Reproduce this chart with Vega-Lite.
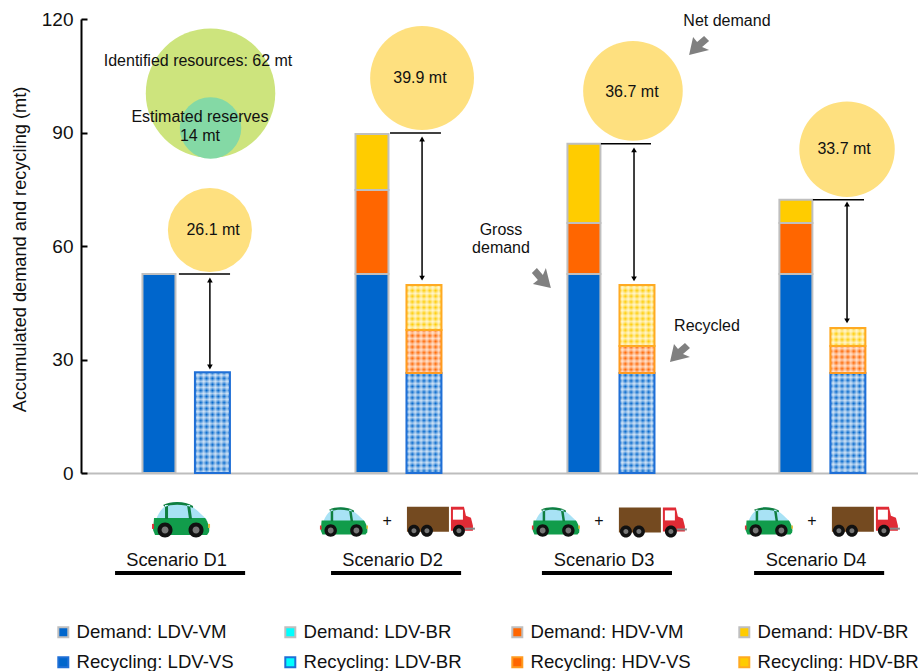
{
"$schema":"https://vega.github.io/schema/vega-lite/v6.json",
"width":837,"height":454,
"autosize":"none",
"padding":{"left":81,"top":19,"right":0,"bottom":198},
"config":{"font":"Liberation Sans","view":{"stroke":null},"text":{"color":"#111111"}},
"datasets":{
"bars":[
{"scenario":"D1","x":0.875,"y":0,"y2":52.6,"series":"Demand: LDV-VM","kind":"Demand"},
{"scenario":"D2","x":1.879,"y":0,"y2":52.6,"series":"Demand: LDV-VM","kind":"Demand"},
{"scenario":"D2","x":1.879,"y":52.6,"y2":74.8,"series":"Demand: HDV-VM","kind":"Demand"},
{"scenario":"D2","x":1.879,"y":74.8,"y2":89.6,"series":"Demand: HDV-BR","kind":"Demand"},
{"scenario":"D3","x":2.878,"y":0,"y2":52.6,"series":"Demand: LDV-VM","kind":"Demand"},
{"scenario":"D3","x":2.878,"y":52.6,"y2":66.1,"series":"Demand: HDV-VM","kind":"Demand"},
{"scenario":"D3","x":2.878,"y":66.1,"y2":87,"series":"Demand: HDV-BR","kind":"Demand"},
{"scenario":"D4","x":3.877,"y":0,"y2":52.6,"series":"Demand: LDV-VM","kind":"Demand"},
{"scenario":"D4","x":3.877,"y":52.6,"y2":66.1,"series":"Demand: HDV-VM","kind":"Demand"},
{"scenario":"D4","x":3.877,"y":66.1,"y2":72.2,"series":"Demand: HDV-BR","kind":"Demand"},
{"scenario":"D1","x":1.127,"y":0,"y2":26.6,"series":"Recycling: LDV-VS","kind":"Recycling"},
{"scenario":"D2","x":2.124,"y":0,"y2":26.4,"series":"Recycling: LDV-VS","kind":"Recycling"},
{"scenario":"D2","x":2.124,"y":26.4,"y2":37.8,"series":"Recycling: HDV-VS","kind":"Recycling"},
{"scenario":"D2","x":2.124,"y":37.8,"y2":49.7,"series":"Recycling: HDV-BR","kind":"Recycling"},
{"scenario":"D3","x":3.128,"y":0,"y2":26.4,"series":"Recycling: LDV-VS","kind":"Recycling"},
{"scenario":"D3","x":3.128,"y":26.4,"y2":33.6,"series":"Recycling: HDV-VS","kind":"Recycling"},
{"scenario":"D3","x":3.128,"y":33.6,"y2":49.7,"series":"Recycling: HDV-BR","kind":"Recycling"},
{"scenario":"D4","x":4.122,"y":0,"y2":26.4,"series":"Recycling: LDV-VS","kind":"Recycling"},
{"scenario":"D4","x":4.122,"y":26.4,"y2":33.6,"series":"Recycling: HDV-VS","kind":"Recycling"},
{"scenario":"D4","x":4.122,"y":33.6,"y2":38.3,"series":"Recycling: HDV-BR","kind":"Recycling"}
],
"columns":[
{"scenario":"D1","x":1.127,"y":0,"y2":26.6},
{"scenario":"D2","x":2.124,"y":0,"y2":49.7},
{"scenario":"D3","x":3.128,"y":0,"y2":49.7},
{"scenario":"D4","x":4.122,"y":0,"y2":38.3}
],
"net":[
{"scenario":"D1","mt":26.1,"x":1.115,"y":64.2,"tx":0.969,"tx2":1.21,"top":52.6},
{"scenario":"D2","mt":39.9,"x":2.115,"y":104.4,"tx":1.964,"tx2":2.204,"top":89.9},
{"scenario":"D3","mt":36.7,"x":3.109,"y":101,"tx":2.958,"tx2":3.194,"top":87},
{"scenario":"D4","mt":33.7,"x":4.118,"y":85.6,"tx":3.957,"tx2":4.198,"top":72.2}
],
"arrows":[
{"x":1.115,"y":51,"y2":28},
{"x":2.115,"y":88.3,"y2":51.5},
{"x":3.114,"y":85.4,"y2":51.3},
{"x":4.118,"y":71.1,"y2":40.2}
],
"resources":[
{"name":"Identified resources","mt":62,"x":1.118,"y":100.4},
{"name":"Estimated reserves","mt":14,"x":1.118,"y":91.2}
],
"notes16":[
{"label":"26.1 mt","x":1.13,"y":64.2},
{"label":"39.9 mt","x":2.105,"y":104.3},
{"label":"36.7 mt","x":3.104,"y":100.7},
{"label":"33.7 mt","x":4.104,"y":85.6},
{"label":"Identified resources: 62 mt","x":1.059,"y":108.9},
{"label":"Estimated reserves","x":1.068,"y":94},
{"label":"14 mt","x":1.068,"y":89},
{"label":"Net demand","x":3.552,"y":119.5},
{"label":"Gross","x":2.487,"y":64.2},
{"label":"demand","x":2.487,"y":59.5},
{"label":"Recycled","x":3.458,"y":38.9},
{"label":"+","x":1.95,"y":-12.7},
{"label":"+","x":2.949,"y":-12.7},
{"label":"+","x":3.953,"y":-12.7}
],
"pointers":[
{"label":"Net demand","x":3.416,"y":113.1,"angle":0},
{"label":"Gross demand","x":2.675,"y":51.3,"angle":270},
{"label":"Recycled","x":3.326,"y":32,"angle":0}
],
"scenarios":[
{"label":"Scenario D1","lx":0.958,"x":0.668,"x2":1.281,"ly":-23.3,"y":-26.4},
{"label":"Scenario D2","lx":1.976,"x":1.686,"x2":2.299,"ly":-23.3,"y":-26.4},
{"label":"Scenario D3","lx":2.973,"x":2.68,"x2":3.293,"ly":-23.3,"y":-26.4},
{"label":"Scenario D4","lx":3.972,"x":3.68,"x2":4.293,"ly":-23.3,"y":-26.4}
],
"vehicles":[
{"x":0.979,"y":-12.4,"k":4,"parts":["glass","carbody","frame","redlight","yellowlight","carwheels","carhubs"]},
{"x":1.747,"y":-13,"k":2.75,"parts":["glass","carbody","frame","redlight","yellowlight","carwheels","carhubs"]},
{"x":2.746,"y":-13,"k":2.75,"parts":["glass","carbody","frame","redlight","yellowlight","carwheels","carhubs"]},
{"x":3.75,"y":-13,"k":2.75,"parts":["glass","carbody","frame","redlight","yellowlight","carwheels","carhubs"]},
{"x":2.204,"y":-12.6,"k":4,"parts":["box","cab","window","bumper","truckwheels","truckhubs"]},
{"x":3.203,"y":-12.8,"k":4,"parts":["box","cab","window","bumper","truckwheels","truckhubs"]},
{"x":4.207,"y":-12.6,"k":4,"parts":["box","cab","window","bumper","truckwheels","truckhubs"]}
]
},
"encoding":{
"x":{"field":"x","type":"quantitative","scale":{"domain":[0.5075,4.4525],"nice":false,"zero":false,"padding":0},
 "axis":{"title":null,"labels":false,"ticks":false,"grid":false,"domainColor":"#bdbdbd","domainWidth":2}},
"y":{"field":"y","type":"quantitative","scale":{"domain":[0,120],"nice":false,"zero":false},
 "axis":{"title":"Accumulated demand and recycling (mt)","titleFontSize":18.2,"titleFontWeight":"normal","titleColor":"#111111","titlePadding":12,"titleY":230,
  "values":[0,30,60,90,120],"labelFontSize":19,"labelColor":"#111111","labelPadding":14,"tickSize":-6,"tickColor":"#000000","tickWidth":2,"domainColor":"#000000","domainWidth":2,"grid":false}}
},
"layer":[
{"data":{"name":"resources"},"transform":[{"filter":"datum.mt==62"}],"mark":{"type":"point","shape":"circle","filled":true,"opacity":1,"color":"#CDE47D"},
 "encoding":{"size":{"field":"mt","type":"quantitative","legend":null,"scale":{"type":"linear","domain":[0,62],"range":[0,16762]}}}},
{"data":{"name":"resources"},"transform":[{"filter":"datum.mt==14"}],"mark":{"type":"point","shape":"circle","filled":true,"opacity":1,"color":"#84D9A5"},
 "encoding":{"size":{"field":"mt","type":"quantitative","legend":null,"scale":{"type":"linear","domain":[0,62],"range":[0,16762]}}}},
{"data":{"name":"net"},"mark":{"type":"point","shape":"circle","filled":true,"opacity":1,"color":"#FEE07F"},
 "encoding":{"size":{"field":"mt","type":"quantitative","legend":null,"scale":{"type":"linear","domain":[0,62],"range":[0,16762]}}}},
{"data":{"name":"bars"},"transform":[{"filter":"datum.kind=='Recycling'"}],
 "mark":{"type":"bar","size":0,"fill":"transparent","strokeWidth":0},
 "encoding":{"y2":{"field":"y2"},
  "stroke":{"field":"series","type":"nominal","scale":{"domain":["Demand: LDV-VM","Demand: LDV-BR","Demand: HDV-VM","Demand: HDV-BR","Recycling: LDV-VS","Recycling: LDV-BR","Recycling: HDV-VS","Recycling: HDV-BR"],"range":["#bfbfbf","#bfbfbf","#bfbfbf","#bfbfbf","#1f6fd6","#1f6fd6","#ff9a1f","#ffaa22"]},
   "legend":{"title":null,"orient":"none","legendX":-27,"legendY":604,"columns":4,"direction":"horizontal","gridAlign":"all","symbolType":"square","symbolSize":100,"labelFontSize":18.6,"labelColor":"#111111","labelLimit":220,"rowPadding":11,"columnPadding":43,"labelOffset":4,
    "encoding":{"symbols":{
      "fill":{"value":{"expr":"datum.value=='Recycling: LDV-VS'?'#8fbcec':datum.value=='Recycling: LDV-BR'?'#a6f5f5':datum.value=='Recycling: HDV-VS'?'#ffbf94':datum.value=='Recycling: HDV-BR'?'#ffe88a':scale('color',datum.value)"}},
      "strokeWidth":{"value":2}}}}}}},
{"data":{"name":"bars"},"transform":[{"filter":"datum.kind=='Demand'"}],
 "mark":{"type":"bar","size":33,"stroke":"#bfbfbf","strokeWidth":2},
 "encoding":{"y2":{"field":"y2"},
  "color":{"field":"series","type":"nominal","scale":{"domain":["Demand: LDV-VM","Demand: LDV-BR","Demand: HDV-VM","Demand: HDV-BR","Recycling: LDV-VS","Recycling: LDV-BR","Recycling: HDV-VS","Recycling: HDV-BR"],"range":["#0066CC","#00FFFF","#FF6600","#FFCC00","#0066CC","#00FFFF","#FF6600","#FFCC00"]},"legend":null}}},
{"data":{"name":"bars"},"transform":[{"filter":"datum.kind=='Recycling'"}],
 "mark":{"type":"bar","size":35},
 "encoding":{"y2":{"field":"y2"},
  "color":{"field":"series","type":"nominal","scale":{"domain":["Demand: LDV-VM","Demand: LDV-BR","Demand: HDV-VM","Demand: HDV-BR","Recycling: LDV-VS","Recycling: LDV-BR","Recycling: HDV-VS","Recycling: HDV-BR"],"range":["#0066CC","#00FFFF","#FF6600","#FFCC00","#0066CC","#00FFFF","#FF6600","#FFCC00"]},"legend":null}}},
{"data":{"name":"columns"},
 "mark":{"type":"bar","size":35,"fill":{"gradient":"linear","x1":0,"y1":0,"x2":1,"y2":0,"stops":[
  {"offset":0,"color":"#fff0"},{"offset":0.083,"color":"#fff9"},{"offset":0.167,"color":"#fff0"},{"offset":0.25,"color":"#fff9"},{"offset":0.333,"color":"#fff0"},{"offset":0.417,"color":"#fff9"},{"offset":0.5,"color":"#fff0"},{"offset":0.583,"color":"#fff9"},{"offset":0.667,"color":"#fff0"},{"offset":0.75,"color":"#fff9"},{"offset":0.833,"color":"#fff0"},{"offset":0.917,"color":"#fff9"},{"offset":1,"color":"#fff0"}]}},
 "encoding":{"y2":{"field":"y2"}}},
{"data":{"name":"columns"},"transform":[{"filter":"datum.scenario=='D1'"}],
 "mark":{"type":"bar","size":35,"fill":{"gradient":"linear","x1":0,"y1":0,"x2":0,"y2":1,"stops":[
  {"offset":0,"color":"#fff0"},{"offset":0.03,"color":"#fff9"},{"offset":0.06,"color":"#fff0"},{"offset":0.09,"color":"#fff9"},{"offset":0.12,"color":"#fff0"},{"offset":0.15,"color":"#fff9"},{"offset":0.18,"color":"#fff0"},{"offset":0.21,"color":"#fff9"},{"offset":0.24,"color":"#fff0"},{"offset":0.27,"color":"#fff9"},{"offset":0.3,"color":"#fff0"},{"offset":0.33,"color":"#fff9"},{"offset":0.36,"color":"#fff0"},{"offset":0.39,"color":"#fff9"},{"offset":0.42,"color":"#fff0"},{"offset":0.45,"color":"#fff9"},{"offset":0.48,"color":"#fff0"},{"offset":0.51,"color":"#fff9"},{"offset":0.54,"color":"#fff0"},{"offset":0.57,"color":"#fff9"},{"offset":0.6,"color":"#fff0"},{"offset":0.63,"color":"#fff9"},{"offset":0.66,"color":"#fff0"},{"offset":0.69,"color":"#fff9"},{"offset":0.72,"color":"#fff0"},{"offset":0.75,"color":"#fff9"},{"offset":0.78,"color":"#fff0"},{"offset":0.81,"color":"#fff9"},{"offset":0.84,"color":"#fff0"},{"offset":0.87,"color":"#fff9"},{"offset":0.9,"color":"#fff0"},{"offset":0.93,"color":"#fff9"},{"offset":0.96,"color":"#fff0"},{"offset":0.99,"color":"#fff9"},{"offset":1,"color":"#fff8"}]}},
 "encoding":{"y2":{"field":"y2"}}},
{"data":{"name":"columns"},"transform":[{"filter":"datum.scenario=='D4'"}],
 "mark":{"type":"bar","size":35,"fill":{"gradient":"linear","x1":0,"y1":0,"x2":0,"y2":1,"stops":[
  {"offset":0,"color":"#fff0"},{"offset":0.02,"color":"#fff9"},{"offset":0.04,"color":"#fff0"},{"offset":0.06,"color":"#fff9"},{"offset":0.08,"color":"#fff0"},{"offset":0.1,"color":"#fff9"},{"offset":0.12,"color":"#fff0"},{"offset":0.14,"color":"#fff9"},{"offset":0.16,"color":"#fff0"},{"offset":0.18,"color":"#fff9"},{"offset":0.2,"color":"#fff0"},{"offset":0.22,"color":"#fff9"},{"offset":0.24,"color":"#fff0"},{"offset":0.26,"color":"#fff9"},{"offset":0.28,"color":"#fff0"},{"offset":0.3,"color":"#fff9"},{"offset":0.32,"color":"#fff0"},{"offset":0.34,"color":"#fff9"},{"offset":0.36,"color":"#fff0"},{"offset":0.38,"color":"#fff9"},{"offset":0.4,"color":"#fff0"},{"offset":0.42,"color":"#fff9"},{"offset":0.44,"color":"#fff0"},{"offset":0.46,"color":"#fff9"},{"offset":0.48,"color":"#fff0"},{"offset":0.5,"color":"#fff9"},{"offset":0.52,"color":"#fff0"},{"offset":0.54,"color":"#fff9"},{"offset":0.56,"color":"#fff0"},{"offset":0.58,"color":"#fff9"},{"offset":0.6,"color":"#fff0"},{"offset":0.62,"color":"#fff9"},{"offset":0.64,"color":"#fff0"},{"offset":0.66,"color":"#fff9"},{"offset":0.68,"color":"#fff0"},{"offset":0.7,"color":"#fff9"},{"offset":0.72,"color":"#fff0"},{"offset":0.74,"color":"#fff9"},{"offset":0.76,"color":"#fff0"},{"offset":0.78,"color":"#fff9"},{"offset":0.8,"color":"#fff0"},{"offset":0.82,"color":"#fff9"},{"offset":0.84,"color":"#fff0"},{"offset":0.86,"color":"#fff9"},{"offset":0.88,"color":"#fff0"},{"offset":0.9,"color":"#fff9"},{"offset":0.92,"color":"#fff0"},{"offset":0.94,"color":"#fff9"},{"offset":0.96,"color":"#fff0"},{"offset":0.98,"color":"#fff9"},{"offset":1,"color":"#fff0"}]}},
 "encoding":{"y2":{"field":"y2"}}},
{"data":{"name":"columns"},"transform":[{"filter":"datum.scenario=='D2'||datum.scenario=='D3'"}],
 "mark":{"type":"bar","size":35,"fill":{"gradient":"linear","x1":0,"y1":0,"x2":0,"y2":1,"stops":[
  {"offset":0,"color":"#fff0"},{"offset":0.015,"color":"#fff9"},{"offset":0.03,"color":"#fff0"},{"offset":0.045,"color":"#fff9"},{"offset":0.06,"color":"#fff0"},{"offset":0.075,"color":"#fff9"},{"offset":0.09,"color":"#fff0"},{"offset":0.105,"color":"#fff9"},{"offset":0.12,"color":"#fff0"},{"offset":0.135,"color":"#fff9"},{"offset":0.15,"color":"#fff0"},{"offset":0.165,"color":"#fff9"},{"offset":0.18,"color":"#fff0"},{"offset":0.195,"color":"#fff9"},{"offset":0.21,"color":"#fff0"},{"offset":0.225,"color":"#fff9"},{"offset":0.24,"color":"#fff0"},{"offset":0.255,"color":"#fff9"},{"offset":0.27,"color":"#fff0"},{"offset":0.285,"color":"#fff9"},{"offset":0.3,"color":"#fff0"},{"offset":0.315,"color":"#fff9"},{"offset":0.33,"color":"#fff0"},{"offset":0.345,"color":"#fff9"},{"offset":0.36,"color":"#fff0"},{"offset":0.375,"color":"#fff9"},{"offset":0.39,"color":"#fff0"},{"offset":0.405,"color":"#fff9"},{"offset":0.42,"color":"#fff0"},{"offset":0.435,"color":"#fff9"},{"offset":0.45,"color":"#fff0"},{"offset":0.465,"color":"#fff9"},{"offset":0.48,"color":"#fff0"},{"offset":0.495,"color":"#fff9"},{"offset":0.51,"color":"#fff0"},{"offset":0.525,"color":"#fff9"},{"offset":0.54,"color":"#fff0"},{"offset":0.555,"color":"#fff9"},{"offset":0.57,"color":"#fff0"},{"offset":0.585,"color":"#fff9"},{"offset":0.6,"color":"#fff0"},{"offset":0.615,"color":"#fff9"},{"offset":0.63,"color":"#fff0"},{"offset":0.645,"color":"#fff9"},{"offset":0.66,"color":"#fff0"},{"offset":0.675,"color":"#fff9"},{"offset":0.69,"color":"#fff0"},{"offset":0.705,"color":"#fff9"},{"offset":0.72,"color":"#fff0"},{"offset":0.735,"color":"#fff9"},{"offset":0.75,"color":"#fff0"},{"offset":0.765,"color":"#fff9"},{"offset":0.78,"color":"#fff0"},{"offset":0.795,"color":"#fff9"},{"offset":0.81,"color":"#fff0"},{"offset":0.825,"color":"#fff9"},{"offset":0.84,"color":"#fff0"},{"offset":0.855,"color":"#fff9"},{"offset":0.87,"color":"#fff0"},{"offset":0.885,"color":"#fff9"},{"offset":0.9,"color":"#fff0"},{"offset":0.915,"color":"#fff9"},{"offset":0.93,"color":"#fff0"},{"offset":0.945,"color":"#fff9"},{"offset":0.96,"color":"#fff0"},{"offset":0.975,"color":"#fff9"},{"offset":0.99,"color":"#fff0"},{"offset":1,"color":"#fff8"}]}},
 "encoding":{"y2":{"field":"y2"}}},
{"data":{"name":"bars"},"transform":[{"filter":"datum.kind=='Recycling'"}],
 "mark":{"type":"bar","size":35,"fill":"transparent","strokeWidth":2},
 "encoding":{"y2":{"field":"y2"},
  "stroke":{"field":"series","type":"nominal","legend":null,"scale":{"domain":["Demand: LDV-VM","Demand: LDV-BR","Demand: HDV-VM","Demand: HDV-BR","Recycling: LDV-VS","Recycling: LDV-BR","Recycling: HDV-VS","Recycling: HDV-BR"],"range":["#bfbfbf","#bfbfbf","#bfbfbf","#bfbfbf","#1f6fd6","#1f6fd6","#ff9a1f","#ffaa22"]}}}},
{"data":{"name":"net"},"mark":{"type":"rule","color":"#000000","strokeWidth":1.5},
 "encoding":{"x":{"field":"tx","type":"quantitative"},"x2":{"field":"tx2"},"y":{"field":"top","type":"quantitative"}}},
{"data":{"name":"arrows"},"mark":{"type":"rule","color":"#000000","strokeWidth":1.5},
 "encoding":{"y2":{"field":"y2"}}},
{"data":{"name":"arrows"},"mark":{"type":"point","shape":"triangle-up","filled":true,"size":32,"color":"#000000","opacity":1},"encoding":{}},
{"data":{"name":"arrows"},"mark":{"type":"point","shape":"triangle-down","filled":true,"size":32,"color":"#000000","opacity":1},
 "encoding":{"y":{"field":"y2","type":"quantitative"}}},
{"data":{"name":"pointers"},"mark":{"type":"point","filled":true,"size":4,"color":"#808080","opacity":1,"shape":"M-9,10 L-5,-8 L-1,-3 L6,-9 L11,-4 L4,2 L11,5 Z"},
 "encoding":{"angle":{"field":"angle","type":"quantitative","scale":null}}},
{"data":{"name":"notes16"},"mark":{"type":"text","fontSize":16,"align":"center","baseline":"middle"},
 "encoding":{"text":{"field":"label"}}},
{"data":{"name":"scenarios"},"mark":{"type":"rule","color":"#000000","strokeWidth":4},
 "encoding":{"x2":{"field":"x2"}}},
{"data":{"name":"scenarios"},"mark":{"type":"text","fontSize":18.3,"align":"center","baseline":"middle"},
 "encoding":{"x":{"field":"lx","type":"quantitative"},"y":{"field":"ly","type":"quantitative"},"text":{"field":"label"}}},
{"data":{"name":"vehicles"},"transform":[{"flatten":["parts"]}],"mark":{"type":"point","filled":true,"opacity":1,"strokeWidth":0},
 "encoding":{
  "size":{"field":"k","type":"quantitative","scale":null},
  "shape":{"field":"parts","type":"nominal","legend":null,"scale":{"domain":["glass","carbody","frame","redlight","yellowlight","carwheels","carhubs","box","cab","window","bumper","truckwheels","truckhubs"],
   "range":[
   "M-25,0 C-22,-10 -14,-18 -4,-18 C8,-18 16,-10 26,0 Z",
   "M-27,-2 L24,-2 C27,2 29,8 28,12 L26,15 L-26,15 L-28,10 Z",
   "M-18,-15 C-10,-19 4,-19 12,-14 L12,-12 C4,-16 -10,-16 -16,-13 Z M-16,-1 L-13,-1 L-13,-15 L-16,-15 Z M8,-1 L11,-1 L9,-15 L6,-15 Z",
   "M-29,4 L-27,4 L-27,9 L-29,9 Z",
   "M27,4 L29,4 L29,8 L27,8 Z",
   "M-23.5,10 a7.5,7.5 0 1,0 15,0 a7.5,7.5 0 1,0 -15,0 Z M7.5,10 a7.5,7.5 0 1,0 15,0 a7.5,7.5 0 1,0 -15,0 Z",
   "M-19.5,10 a3.5,3.5 0 1,0 7,0 a3.5,3.5 0 1,0 -7,0 Z M11.5,10 a3.5,3.5 0 1,0 7,0 a3.5,3.5 0 1,0 -7,0 Z",
   "M-34,-14 L8,-14 L8,11 L-34,11 Z",
   "M10,-14 L23,-14 L25,-5 L30,-3 L32,5 L32,10 L10,10 Z",
   "M12,-11 L22,-11 L22,-1 L12,-1 Z",
   "M24,7 L34,7 L34,9 L24,9 Z",
   "M-33,10 a6,6 0 1,0 12,0 a6,6 0 1,0 -12,0 Z M-20,10 a6,6 0 1,0 12,0 a6,6 0 1,0 -12,0 Z M12,10 a6,6 0 1,0 12,0 a6,6 0 1,0 -12,0 Z",
   "M-29.5,10 a2.5,2.5 0 1,0 5,0 a2.5,2.5 0 1,0 -5,0 Z M-16.5,10 a2.5,2.5 0 1,0 5,0 a2.5,2.5 0 1,0 -5,0 Z M15.5,10 a2.5,2.5 0 1,0 5,0 a2.5,2.5 0 1,0 -5,0 Z"
   ]}},
  "fill":{"field":"parts","type":"nominal","legend":null,"scale":{"domain":["glass","carbody","frame","redlight","yellowlight","carwheels","carhubs","box","cab","window","bumper","truckwheels","truckhubs"],
   "range":["#A8E2F5","#119C4B","#0F7F40","#E0303A","#E8C040","#111111","#777777","#744A20","#E02B35","#FFFFFF","#888888","#111111","#777777"]}}
 }}
],
"resolve":{"scale":{"size":"independent"}}
}
